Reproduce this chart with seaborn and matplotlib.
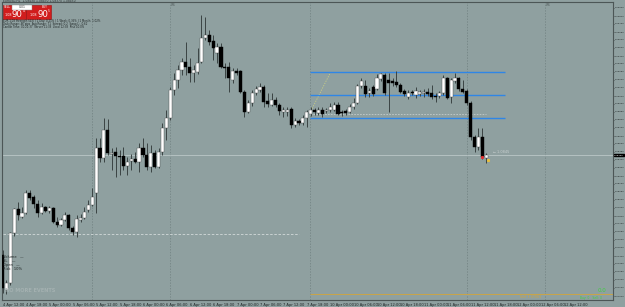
import matplotlib
matplotlib.use("Agg")
import matplotlib.pyplot as plt
from matplotlib.patches import Rectangle
from matplotlib.ticker import MultipleLocator, FormatStrFormatter
import pandas as pd
import seaborn as sns

# OHLC of the visible bars, left to right
OPEN = [
    1.0745, 1.0710, 1.0717, 1.0767, 1.0791, 1.0783, 1.0787, 1.0807, 1.0803, 1.0796,
    1.0787, 1.0793, 1.0789, 1.0792, 1.0778, 1.0775, 1.0780, 1.0785, 1.0772, 1.0768,
    1.0780, 1.0782, 1.0790, 1.0795, 1.0807, 1.0852, 1.0842, 1.0870, 1.0846, 1.0848,
    1.0844, 1.0844, 1.0834, 1.0839, 1.0841, 1.0838, 1.0852, 1.0845, 1.0833, 1.0847,
    1.0833, 1.0848, 1.0872, 1.0882, 1.0910, 1.0920, 1.0930, 1.0938, 1.0933, 1.0927,
    1.0928, 1.0938, 1.0962, 1.0965, 1.0959, 1.0947, 1.0953, 1.0933, 1.0933, 1.0920,
    1.0929, 1.0929, 1.0908, 1.0888, 1.0897, 1.0907, 1.0910, 1.0913, 1.0899, 1.0895,
    1.0900, 1.0895, 1.0888, 1.0888, 1.0891, 1.0875, 1.0879, 1.0877, 1.0882, 1.0886,
    1.0890, 1.0887, 1.0890, 1.0889, 1.0890, 1.0890, 1.0895, 1.0888, 1.0889, 1.0888,
    1.0893, 1.0897, 1.0914, 1.0914, 1.0907, 1.0913, 1.0911, 1.0921, 1.0925, 1.0920,
    1.0919, 1.0918, 1.0915, 1.0909, 1.0903, 1.0908, 1.0905, 1.0906, 1.0907, 1.0908,
    1.0907, 1.0904, 1.0904, 1.0907, 1.0922, 1.0903, 1.0919, 1.0922, 1.0911, 1.0909,
    1.0897, 1.0863, 1.0853, 1.0863, 1.0842,
]
HIGH = [
    1.0750, 1.0720, 1.0768, 1.0792, 1.0798, 1.0793, 1.0810, 1.0810, 1.0805, 1.0800,
    1.0797, 1.0794, 1.0794, 1.0793, 1.0783, 1.0782, 1.0788, 1.0786, 1.0774, 1.0785,
    1.0786, 1.0793, 1.0800, 1.0812, 1.0862, 1.0862, 1.0882, 1.0881, 1.0852, 1.0853,
    1.0850, 1.0853, 1.0843, 1.0846, 1.0848, 1.0857, 1.0862, 1.0857, 1.0855, 1.0850,
    1.0852, 1.0877, 1.0890, 1.0913, 1.0927, 1.0935, 1.0942, 1.0958, 1.0942, 1.0935,
    1.0952, 1.0985, 1.0983, 1.0970, 1.0965, 1.0957, 1.0957, 1.0937, 1.0938, 1.0932,
    1.0932, 1.0930, 1.0910, 1.0900, 1.0910, 1.0914, 1.0917, 1.0915, 1.0907, 1.0907,
    1.0903, 1.0897, 1.0893, 1.0893, 1.0893, 1.0882, 1.0881, 1.0885, 1.0890, 1.0893,
    1.0892, 1.0893, 1.0893, 1.0892, 1.0897, 1.0898, 1.0898, 1.0890, 1.0891, 1.0896,
    1.0902, 1.0916, 1.0922, 1.0920, 1.0912, 1.0915, 1.0926, 1.0927, 1.0927, 1.0927,
    1.0922, 1.0929, 1.0917, 1.0911, 1.0910, 1.0910, 1.0913, 1.0910, 1.0911, 1.0912,
    1.0915, 1.0907, 1.0909, 1.0925, 1.0923, 1.0922, 1.0927, 1.0923, 1.0920, 1.0911,
    1.0899, 1.0865, 1.0872, 1.0872, 1.0847,
]
LOW = [
    1.0707, 1.0706, 1.0715, 1.0764, 1.0780, 1.0782, 1.0786, 1.0800, 1.0792, 1.0783,
    1.0786, 1.0788, 1.0787, 1.0777, 1.0773, 1.0774, 1.0779, 1.0770, 1.0765, 1.0763,
    1.0778, 1.0781, 1.0788, 1.0794, 1.0787, 1.0838, 1.0838, 1.0845, 1.0830, 1.0823,
    1.0825, 1.0830, 1.0825, 1.0830, 1.0837, 1.0828, 1.0843, 1.0830, 1.0828, 1.0832,
    1.0832, 1.0845, 1.0860, 1.0880, 1.0905, 1.0912, 1.0925, 1.0925, 1.0918, 1.0918,
    1.0926, 1.0937, 1.0960, 1.0955, 1.0940, 1.0937, 1.0932, 1.0922, 1.0908, 1.0917,
    1.0925, 1.0907, 1.0883, 1.0887, 1.0894, 1.0905, 1.0908, 1.0893, 1.0893, 1.0894,
    1.0893, 1.0885, 1.0883, 1.0884, 1.0872, 1.0873, 1.0875, 1.0875, 1.0873, 1.0884,
    1.0885, 1.0885, 1.0883, 1.0887, 1.0888, 1.0889, 1.0885, 1.0884, 1.0885, 1.0887,
    1.0891, 1.0896, 1.0912, 1.0903, 1.0903, 1.0904, 1.0910, 1.0919, 1.0905, 1.0888,
    1.0914, 1.0913, 1.0907, 1.0904, 1.0901, 1.0905, 1.0902, 1.0904, 1.0903, 1.0904,
    1.0901, 1.0898, 1.0902, 1.0905, 1.0901, 1.0897, 1.0917, 1.0909, 1.0907, 1.0895,
    1.0860, 1.0848, 1.0850, 1.0841, 1.0837,
]
CLOSE = [
    1.0712, 1.0717, 1.0767, 1.0791, 1.0785, 1.0787, 1.0807, 1.0802, 1.0796, 1.0787,
    1.0793, 1.0789, 1.0792, 1.0778, 1.0775, 1.0780, 1.0785, 1.0772, 1.0768, 1.0781,
    1.0782, 1.0788, 1.0795, 1.0803, 1.0852, 1.0842, 1.0870, 1.0847, 1.0847, 1.0844,
    1.0843, 1.0834, 1.0838, 1.0841, 1.0838, 1.0852, 1.0845, 1.0833, 1.0847, 1.0833,
    1.0848, 1.0872, 1.0882, 1.0910, 1.0920, 1.0930, 1.0938, 1.0933, 1.0927, 1.0930,
    1.0937, 1.0962, 1.0965, 1.0958, 1.0952, 1.0953, 1.0933, 1.0932, 1.0922, 1.0929,
    1.0927, 1.0908, 1.0888, 1.0897, 1.0907, 1.0911, 1.0913, 1.0898, 1.0896, 1.0900,
    1.0895, 1.0889, 1.0890, 1.0890, 1.0875, 1.0879, 1.0877, 1.0882, 1.0888, 1.0890,
    1.0888, 1.0890, 1.0886, 1.0890, 1.0893, 1.0895, 1.0886, 1.0887, 1.0887, 1.0893,
    1.0897, 1.0914, 1.0919, 1.0906, 1.0909, 1.0906, 1.0922, 1.0926, 1.0907, 1.0917,
    1.0917, 1.0915, 1.0908, 1.0906, 1.0907, 1.0907, 1.0909, 1.0908, 1.0908, 1.0906,
    1.0903, 1.0903, 1.0907, 1.0922, 1.0902, 1.0920, 1.0922, 1.0911, 1.0908, 1.0897,
    1.0863, 1.0853, 1.0863, 1.0843, 1.0845,
]

TIME_TICKS = [0, 6, 12, 18, 24, 30, 36, 42, 48, 54, 60, 66, 72, 78, 84, 90,
              96, 102, 108, 114, 120, 126, 132, 138, 144]
TIME_LABELS = [
    "4 Apr 12:00", "4 Apr 18:00", "5 Apr 00:00", "5 Apr 06:00", "5 Apr 12:00",
    "5 Apr 18:00", "6 Apr 00:00", "6 Apr 06:00", "6 Apr 12:00", "6 Apr 18:00",
    "7 Apr 00:00", "7 Apr 06:00", "7 Apr 12:00", "7 Apr 18:00", "10 Apr 00:00",
    "10 Apr 06:00", "10 Apr 12:00", "10 Apr 18:00", "11 Apr 00:00", "11 Apr 06:00",
    "11 Apr 12:00", "11 Apr 18:00", "12 Apr 00:00", "12 Apr 06:00", "12 Apr 12:00",
]

CHANNEL_LEVELS = [1.0928, 1.0905, 1.0882]
CHANNEL_SPAN = [78.8, 128.8]
BID = 1.0845
LEFT_DASH_LEVEL = 1.0766
LEFT_DASH_SPAN = [0, 76]
RANGE_DASH_LEVEL = 1.0886
RANGE_DASH_SPAN = [78.8, 124]
DIAG_X = [78.8, 84]
DIAG_Y = [1.0887, 1.0927]
ORDER_LEVEL = 1.0706
ORDER_SPAN = [78.8, 156.5]
SEPARATORS = [22.9, 42.9, 78.8, 119.1, 139.1]
PERIOD_MARKS = [42.9, 139.1]

BG = "#8fa0a0"
W, H = 625, 307


def px(x, y):
    return x / W, 1 - y / H


bars = pd.DataFrame({"open": OPEN, "high": HIGH, "low": LOW, "close": CLOSE})
bars["idx"] = range(len(bars))
bars["bull"] = bars["close"] >= bars["open"]
bars["bottom"] = bars[["open", "close"]].min(axis=1)
bars["height"] = (bars["close"] - bars["open"]).abs().clip(lower=0.00007)

sns.set_style("white", {"axes.facecolor": BG, "figure.facecolor": BG})
plt.rcParams["font.family"] = ["DejaVu Sans"]

fig = plt.figure(figsize=(6.25, 3.07), dpi=100)
ax = fig.add_axes([2 / W, 7 / H, 611 / W, 298 / H])
ax.set_facecolor(BG)

for xs in SEPARATORS:
    ax.axvline(xs, color="#6f7f7f", lw=0.5, ls=(0, (2, 2)), zorder=1)

ax.axhline(BID, color="#c4cfcf", lw=0.5, zorder=1)
ax.hlines(LEFT_DASH_LEVEL, *LEFT_DASH_SPAN, color="#d3dada", lw=0.6, ls=(0, (3, 2)), zorder=1)
ax.hlines(RANGE_DASH_LEVEL, *RANGE_DASH_SPAN, color="#c3cccc", lw=0.6, ls=(0, (2, 1.5)), zorder=1)
ax.plot(DIAG_X, DIAG_Y, color="#c9cf86", lw=0.6, ls=(0, (1.5, 1.5)), zorder=1)
ax.hlines(ORDER_LEVEL, *ORDER_SPAN, color="#c9a548", lw=0.7, zorder=1)
for lvl in CHANNEL_LEVELS:
    ax.hlines(lvl, *CHANNEL_SPAN, color="#2f86e6", lw=1.0, zorder=2)

ax.vlines(bars["idx"], bars["low"], bars["high"], color="#3b4444", lw=0.7, zorder=3)
ax.bar(bars["idx"], bars["height"], bottom=bars["bottom"], width=0.8,
       color=["white" if b else "black" for b in bars["bull"]],
       edgecolor=["#4a4a4a" if b else "black" for b in bars["bull"]],
       linewidth=0.3, zorder=4)

ax.plot([123], [1.0843], marker="s", ms=1.2, color="#e03030", lw=0, zorder=5)
ax.plot([124.5], [1.0840], marker="s", ms=1.2, color="#e8c040", lw=0, zorder=5)
ax.text(125.8, 1.0848, "\u2190 1.0845", fontsize=2.5, color="#c8d0d0", va="center")

ax.set_xlim(-0.13, 156.5)
ax.set_ylim(1.0700, 1.0998)

ax.yaxis.tick_right()
ax.yaxis.set_major_locator(MultipleLocator(0.0008))
ax.yaxis.set_major_formatter(FormatStrFormatter("%.5f"))
ax.tick_params(axis="y", labelsize=1.75, length=0.8, width=0.4, pad=0.4,
               colors="#1e2424", direction="out")
ax.set_xticks(TIME_TICKS)
ax.set_xticklabels(TIME_LABELS)
ax.tick_params(axis="x", labelsize=2.6, length=1.5, width=0.4, pad=0.8,
               colors="#1e2424", direction="out")
for lab in ax.get_xticklabels():
    lab.set_horizontalalignment("left")
for sp in ax.spines.values():
    sp.set_color("#4c5656")
    sp.set_linewidth(0.8)

# current price tag on the price scale
fig.text(*px(614, 155), "1.08450", fontsize=1.75, color="white", va="center",
         bbox=dict(boxstyle="square,pad=0.15", fc="black", ec="black"))

# one-click trading panel
fig.add_artist(Rectangle(px(2.5, 19), 23 / W, 14 / H, transform=fig.transFigure,
                         fc="#d11d1d", ec="#9a1010", lw=0.4))
fig.add_artist(Rectangle(px(26, 19), 24.5 / W, 14 / H, transform=fig.transFigure,
                         fc="#d11d1d", ec="#9a1010", lw=0.4))
fig.add_artist(Rectangle(px(12, 9.5), 20 / W, 4.5 / H, transform=fig.transFigure,
                         fc="white", ec="#888888", lw=0.3))
fig.text(*px(4, 7.5), "SELL", fontsize=2.2, color="white", va="center")
fig.text(*px(42, 7.5), "BUY", fontsize=2.2, color="white", va="center")
fig.text(*px(22, 7.3), "0.01", fontsize=2.2, color="#333333", va="center", ha="center")
fig.text(*px(5, 15.5), "1.08", fontsize=2.4, color="white", va="center")
fig.text(*px(12, 14.5), "90", fontsize=6.2, color="white", va="center")
fig.text(*px(22.8, 11.3), "4", fontsize=2.2, color="white", va="center")
fig.text(*px(30, 15.5), "1.08", fontsize=2.4, color="white", va="center")
fig.text(*px(37, 14.5), "90", fontsize=6.2, color="white", va="center")
fig.text(*px(47.8, 11.3), "5", fontsize=2.2, color="white", va="center")

fig.text(*px(3, 1.2), "EURUSD,H1  1.08430 1.08470 1.08370 1.08450", fontsize=2.2,
         color="#2a3030", va="center")
fig.text(*px(3, 21), "EUR 1.08 Strength 54.6 | 1 Day: 0.21% | 1 Week: 0.35% | 1 Month: 1.02%",
         fontsize=1.9, color="#1e2424", va="center")
fig.text(*px(3, 24), "Daily Range: 46 pips  Avg Range: 71  Spread: 0.2  Swap L: -0.62",
         fontsize=1.9, color="#1e2424", va="center")
fig.text(*px(3, 27), "Candle Time: 00:21:37  Server 11:38  Local 12:38  Risk 10.0%",
         fontsize=1.9, color="#1e2424", va="center")
for xs in PERIOD_MARKS:
    fig.text(*px(2.5 + xs * 3.9 + 1, 4.5), "W1", fontsize=2.2, color="#4c5656", va="center")

fig.text(*px(3, 257), "Volume   \u2014", fontsize=2.6, color="#1e2424", va="center")
fig.text(*px(3, 261), "SL    \u2014", fontsize=2.6, color="#1e2424", va="center")
fig.text(*px(3, 265), "Open   \u2014", fontsize=2.6, color="#1e2424", va="center")
fig.text(*px(3, 269), "Risk   10%", fontsize=2.6, color="#1e2424", va="center")
fig.text(*px(5, 291), "NO MORE EVENTS", fontsize=3.6, color="#a4b1b1", va="center",
         fontweight="bold")

fig.text(*px(520, 297), "Sell 1.07061", fontsize=2.4, color="#c9a548", va="center")
fig.text(*px(598, 291), "0.0", fontsize=4, color="#3fd040", va="center")
fig.text(*px(580, 298), "Buy: 0   Sell: 0", fontsize=2.2, color="#3fd040", va="center")

fig.savefig("out.png", dpi=100, facecolor=BG)
plt.close(fig)
